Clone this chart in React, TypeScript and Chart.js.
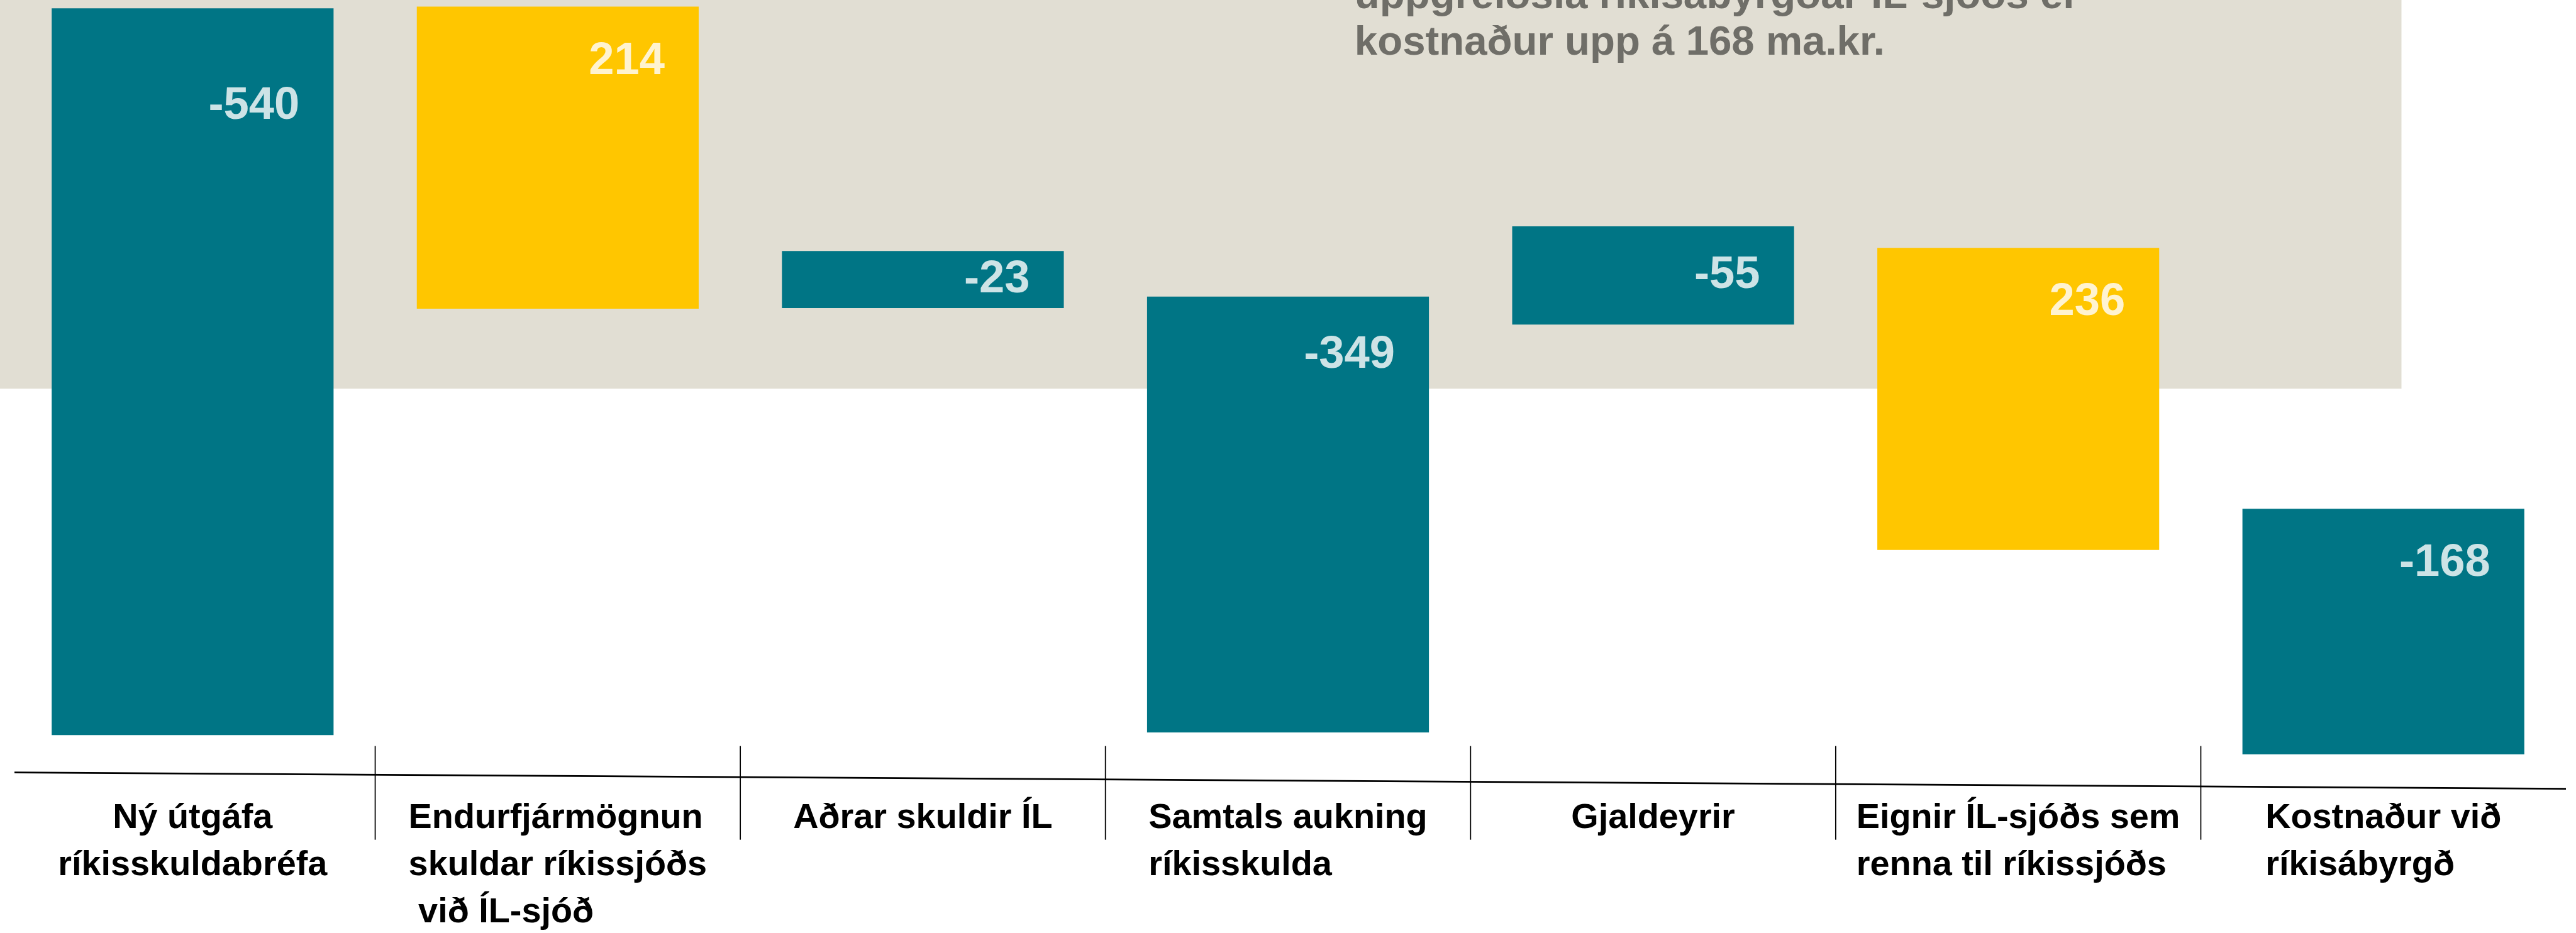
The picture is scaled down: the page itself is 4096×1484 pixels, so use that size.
import React, { useEffect, useRef } from 'react';
import { Chart, registerables } from 'chart.js';

Chart.register(...registerables);

// ---- data -------------------------------------------------------------
const categories: string[][] = [
  ['Ný útgáfa', 'ríkisskuldabréfa'],
  ['Endurfjármögnun', 'skuldar ríkissjóðs', ' við ÍL-sjóð'],
  ['Aðrar skuldir ÍL'],
  ['Samtals aukning', 'ríkisskulda'],
  ['Gjaldeyrir'],
  ['Eignir ÍL-sjóðs sem', 'renna til ríkissjóðs'],
  ['Kostnaður við', 'ríkisábyrgð'],
];
// printed value of each bar (ma.kr.)
const valueLabels = [-540, 214, -23, -349, -55, 236, -168];
// floating bar extents as drawn in the picture (hidden vertical axis)
const barTops = [-1.2, 0, -183.5, -217.7, -165.0, -181.1, -377.0];
const barBottoms = [-547.0, -226.8, -226.3, -544.9, -238.7, -407.9, -561.4];
const axisMin = -575;
const axisMax = 5;
// annotation text (top right, partly cut off)
const noteLines = ['uppgreiðsla ríkisábyrgðar ÍL-sjóðs er', 'kostnaður upp á 168 ma.kr.'];

// ---- styles -----------------------------------------------------------
const S = 0.872;
const FONT = '"Liberation Sans", Arial, Helvetica, sans-serif';
const TEAL = '#007585';
const YELLOW = '#ffc600';
const TEAL_TEXT = '#cde3e6';
const YELLOW_TEXT = '#fff3d0';
const BEIGE = '#e1ded3';
const NOTE_COLOR = '#6f6e68';
const labelAlign = ['center', 'left', 'left', 'left', 'left', 'left', 'left'];

const backgroundPlugin = {
  id: 'bgPanel',
  beforeDraw(chart: any) {
    const ctx = chart.ctx;
    ctx.save();
    ctx.fillStyle = BEIGE;
    ctx.fillRect(0, 0, 4379 * S, 709 * S);
    ctx.fillStyle = NOTE_COLOR;
    ctx.font = `bold ${75 * S}px ${FONT}`;
    ctx.textAlign = 'left';
    ctx.textBaseline = 'alphabetic';
    noteLines.forEach((line, i) => {
      ctx.fillText(line, 2470 * S, (15 + i * 85) * S);
    });
    ctx.restore();
  },
};

const overlayPlugin = {
  id: 'overlay',
  afterDraw(chart: any) {
    const ctx = chart.ctx;
    const area = chart.chartArea;
    const xScale = chart.scales.x;
    ctx.save();

    // slanted baseline
    ctx.strokeStyle = '#000';
    ctx.lineWidth = 2.8;
    ctx.beginPath();
    ctx.moveTo(area.left + 7, area.bottom);
    ctx.lineTo(area.right, area.bottom + 26);
    ctx.stroke();

    // separators between categories
    ctx.lineWidth = 1.8;
    for (let i = 0; i < categories.length - 1; i++) {
      const x = (xScale.getPixelForValue(i) + xScale.getPixelForValue(i + 1)) / 2;
      ctx.beginPath();
      ctx.moveTo(x, area.bottom - 42);
      ctx.lineTo(x, area.bottom + 107);
      ctx.stroke();
    }

    // category labels
    ctx.fillStyle = '#000';
    ctx.font = `bold ${64 * S}px ${FONT}`;
    ctx.textBaseline = 'alphabetic';
    categories.forEach((lines, i) => {
      const cx = xScale.getPixelForValue(i);
      const maxW = Math.max(...lines.map((l) => ctx.measureText(l).width));
      lines.forEach((line, j) => {
        const y = area.bottom + 88 + j * 75;
        if (labelAlign[i] === 'center') {
          ctx.textAlign = 'center';
          ctx.fillText(line, cx, y);
        } else {
          ctx.textAlign = 'left';
          ctx.fillText(line, cx - maxW / 2, y);
        }
      });
    });

    // value labels inside bars
    const meta = chart.getDatasetMeta(0);
    ctx.font = `bold ${83 * S}px ${FONT}`;
    ctx.textAlign = 'right';
    ctx.textBaseline = 'middle';
    meta.data.forEach((el: any, i: number) => {
      const p = el.getProps(['x', 'y', 'base', 'width'], true);
      const top = Math.min(p.y, p.base);
      const h = Math.abs(p.base - p.y);
      const ty = top + Math.min(h / 2, Math.max(100 * S, 0.135 * h));
      const tx = p.x + p.width / 2 - 62 * S;
      ctx.fillStyle = valueLabels[i] >= 0 ? YELLOW_TEXT : TEAL_TEXT;
      ctx.fillText(String(valueLabels[i]), tx, ty);
    });

    ctx.restore();
  },
};

export default function App() {
  const canvasRef = useRef<HTMLCanvasElement | null>(null);

  useEffect(() => {
    document.body.style.margin = '0';
    document.body.style.overflow = 'hidden';
    const canvas = canvasRef.current;
    if (!canvas) return;
    const chart = new Chart(canvas, {
      type: 'bar',
      data: {
        labels: categories,
        datasets: [
          {
            data: categories.map((_, i) => [barBottoms[i], barTops[i]]) as any,
            backgroundColor: valueLabels.map((v) => (v >= 0 ? YELLOW : TEAL)),
            borderWidth: 0,
            barPercentage: 0.772,
            categoryPercentage: 1,
          },
        ],
      },
      options: {
        responsive: false,
        animation: false,
        devicePixelRatio: 1,
        layout: { padding: { left: 16, right: 16, top: 0, bottom: 1484 - 1409 * S } },
        plugins: {
          legend: { display: false },
          tooltip: { enabled: false },
        },
        scales: {
          x: { display: false, offset: true },
          y: { display: false, min: axisMin, max: axisMax },
        },
      },
      plugins: [backgroundPlugin, overlayPlugin],
    });
    return () => chart.destroy();
  }, []);

  return (
    <div style={{ width: 4096, height: 1484 }}>
      <canvas ref={canvasRef} width={4096} height={1484} style={{ display: 'block' }} />
    </div>
  );
}
